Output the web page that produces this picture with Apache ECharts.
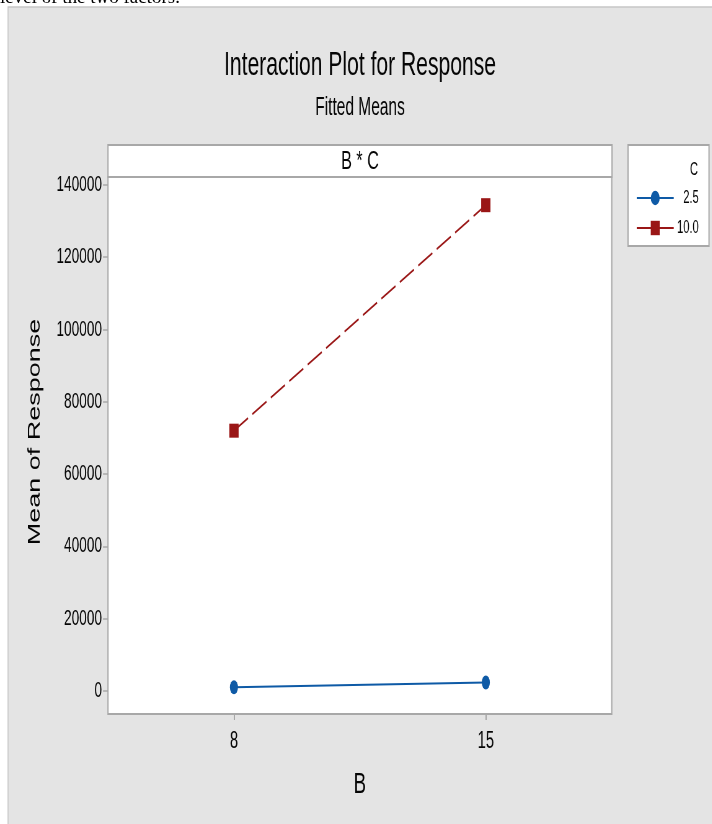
<!DOCTYPE html>
<html><head><meta charset="utf-8">
<script src="https://cdn.jsdelivr.net/npm/echarts@6/dist/echarts.min.js"></script>
<style>
html,body{margin:0;padding:0;overflow:hidden;background:#fff;width:712px;height:824px;}
#wrap{width:712px;height:824px;overflow:hidden;position:relative;}
#chart{position:absolute;left:0;top:0;height:824px;transform-origin:0 0;}
</style></head><body>
<div id="wrap"><div id="chart"></div></div>
<script>
// ---- data ----
const categoriesB = ['8', '15'];
const legendNames = ['2.5', '10.0'];
const meanC25 = [1000, 2300];
const meanC100 = [72000, 134400];
const yTickValues = [0, 20000, 40000, 60000, 80000, 100000, 120000, 140000];
const chartTitle = 'Interaction Plot for Response';
const chartSubtitle = 'Fitted Means';
const panelLabel = 'B * C';
const legendTitle = 'C';
const xName = 'B';
const yName = 'Mean of Response';

// ---- layout (the original screenshot is horizontally compressed) ----
const S = 0.62;
const W = 712 / S;
const X = v => v / S;
const el = document.getElementById('chart');
el.style.width = W + 'px';
el.style.transform = 'scaleX(' + S + ')';

const FF = "'Liberation Sans', Arial, sans-serif";
const TXT = '#050505';
const GRAY = '#a8a8a8';

const chart = echarts.init(el, null, {renderer: 'canvas'});
chart.setOption({
  animation: false,
  backgroundColor: '#ffffff',
  grid: {
    left: X(108), right: W - X(612), top: 177, bottom: 824 - 714,
    show: true, backgroundColor: '#ffffff', borderColor: GRAY, borderWidth: 2,
    containLabel: false
  },
  xAxis: {
    type: 'category', data: categoriesB, boundaryGap: true,
    axisLine: {show: false, onZero: false},
    axisTick: {show: true, alignWithLabel: true, length: 6, lineStyle: {color: GRAY, width: 2}},
    axisLabel: {fontFamily: FF, fontSize: 24, color: TXT, margin: 15},
    splitLine: {show: false},
    name: xName, nameLocation: 'middle', nameGap: 56,
    nameTextStyle: {fontFamily: FF, fontSize: 30, color: TXT}
  },
  yAxis: {
    type: 'value', min: -6400, max: 142200,
    axisLine: {show: false},
    axisTick: {show: true, length: X(5), customValues: yTickValues, lineStyle: {color: GRAY, width: 1.5}},
    axisLabel: {customValues: yTickValues, formatter: v => String(v),
      fontFamily: FF, fontSize: 22, color: TXT, margin: X(6)},
    splitLine: {show: false}
  },
  legend: {
    orient: 'vertical', left: X(633), top: 184,
    itemWidth: X(670) - X(633), itemHeight: 18, itemGap: 12,
    data: legendNames,
    formatter: n => '{a|' + n + '}',
    textStyle: {fontFamily: FF, fontSize: 18, color: TXT, width: X(698) - X(676),
      rich: {a: {fontFamily: FF, fontSize: 18, color: TXT, align: 'right'}}}
  },
  graphic: [
    {type: 'rect', z: -10, shape: {x: X(8), y: 7, width: W, height: 900},
      style: {fill: '#e4e4e4', stroke: '#c6c6c6', lineWidth: 1.5}},
    {type: 'text', z: 5, x: 0, y: 8, scaleX: 1 / S,
      style: {text: 'level of the two factors.', fontFamily: "'Liberation Serif', serif", fontSize: 19, fill: '#000', align: 'left', verticalAlign: 'bottom'}},
    {type: 'text', z: 5, x: X(360), y: 66,
      style: {text: chartTitle, fontFamily: FF, fontSize: 34, fill: TXT, align: 'center', verticalAlign: 'middle'}},
    {type: 'text', z: 5, x: X(360), y: 108,
      style: {text: chartSubtitle, fontFamily: FF, fontSize: 25, fill: TXT, align: 'center', verticalAlign: 'middle'}},
    {type: 'rect', z: 1, shape: {x: X(108), y: 145, width: X(612) - X(108), height: 32},
      style: {fill: '#ffffff', stroke: GRAY, lineWidth: 2}},
    {type: 'text', z: 5, x: X(360), y: 162,
      style: {text: panelLabel, fontFamily: FF, fontSize: 26, fill: TXT, align: 'center', verticalAlign: 'middle'}},
    {type: 'rect', z: -5, shape: {x: X(628), y: 145, width: X(709) - X(628), height: 101},
      style: {fill: '#ffffff', stroke: GRAY, lineWidth: 2}},
    {type: 'text', z: 5, x: X(698), y: 170,
      style: {text: legendTitle, fontFamily: FF, fontSize: 18, fill: TXT, align: 'right', verticalAlign: 'middle'}},
    {type: 'text', z: 5, x: X(35), y: 432, rotation: Math.PI / 2,
      style: {text: yName, fontFamily: FF, fontSize: 27, fill: TXT, align: 'center', verticalAlign: 'middle'}}
  ],
  series: [
    {
      name: legendNames[0], type: 'line', data: meanC25,
      symbol: 'circle', symbolSize: [13, 14],
      lineStyle: {color: '#0e5aa6', width: 2, type: 'solid'},
      itemStyle: {color: '#0e5aa6'}, z: 3
    },
    {
      name: legendNames[1], type: 'line', data: meanC100,
      symbol: 'rect', symbolSize: [15, 14],
      lineStyle: {color: '#9a1616', width: 2, type: [26, 8]},
      itemStyle: {color: '#9a1616'}, z: 3
    }
  ]
});
</script>
</body></html>
